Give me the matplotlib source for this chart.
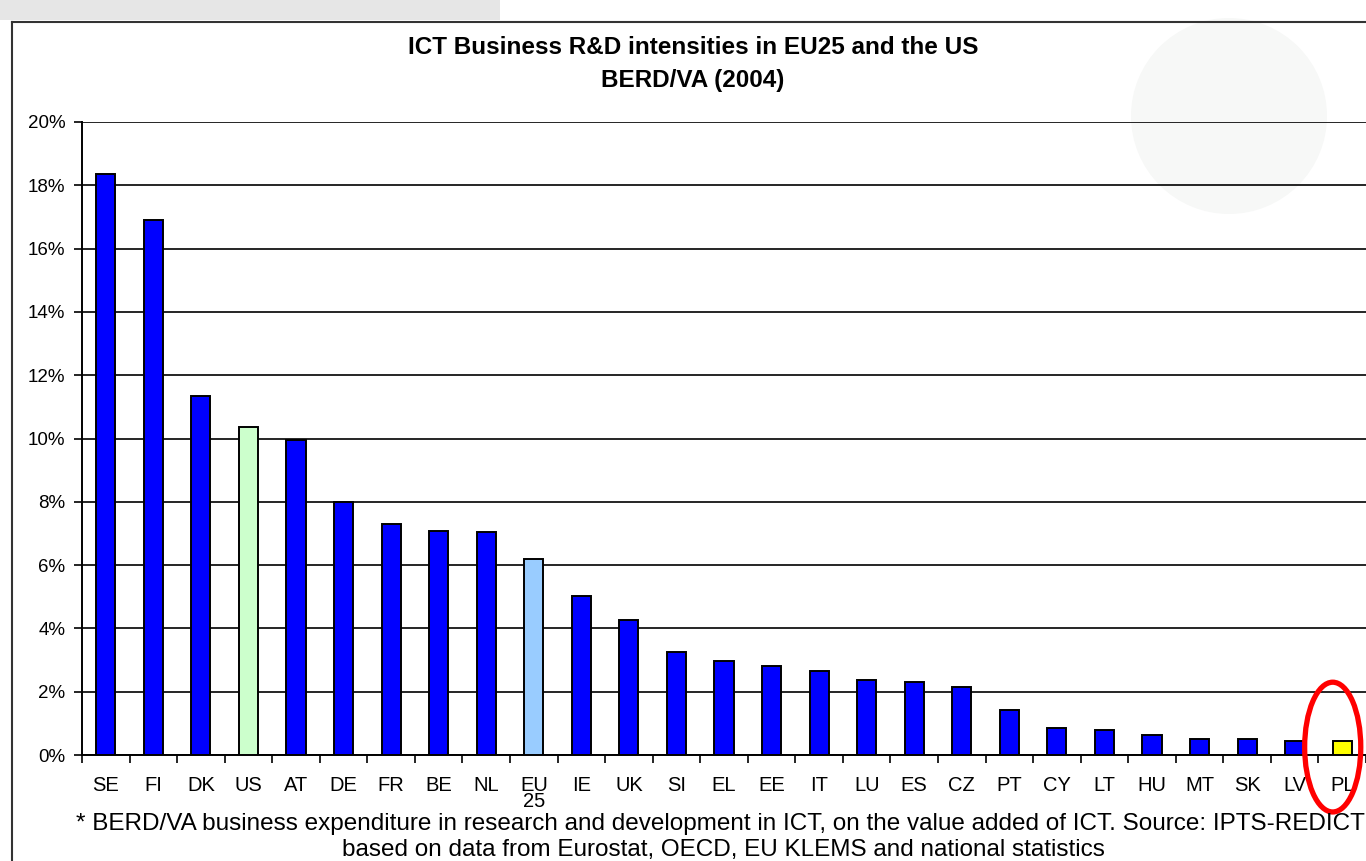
import matplotlib
matplotlib.use('Agg')
import matplotlib.pyplot as plt
from matplotlib.patches import Ellipse, Circle
from matplotlib.lines import Line2D
from matplotlib.transforms import IdentityTransform

# data (BERD/VA, %)
countries = ["SE", "FI", "DK", "US", "AT", "DE", "FR", "BE", "NL", "EU\n25", "IE", "UK", "SI",
             "EL", "EE", "IT", "LU", "ES", "CZ", "PT", "CY", "LT", "HU", "MT", "SK", "LV", "PL"]
values = [18.36, 16.9, 11.34, 10.36, 9.95, 7.99, 7.30, 7.08, 7.05, 6.19, 5.02, 4.27, 3.25,
          2.97, 2.81, 2.65, 2.37, 2.31, 2.15, 1.42, 0.85, 0.79, 0.63, 0.51, 0.51, 0.44, 0.44]
special_colors = {"US": "#CCFFCC", "EU\n25": "#99CCFF", "PL": "#FFFF00"}
yticks = [0, 2, 4, 6, 8, 10, 12, 14, 16, 18, 20]

plt.rcParams['font.family'] = ['Liberation Sans', 'DejaVu Sans']

fig = plt.figure(figsize=(13.66, 8.61), dpi=100)
W, H = 1366, 861

# faint watermark and frame of the slide (pixel coords, origin bottom-left)
fig.patches.append(Circle((1229, H - 116), 98, transform=IdentityTransform(),
                          facecolor="#F7F8F7", edgecolor="none", zorder=-2))
fig.patches.append(plt.Rectangle((0, 1 - 20 / H), 500 / W, 20 / H, transform=fig.transFigure,
                                 facecolor="#E6E6E6", edgecolor="none", zorder=-2))
fig.lines.append(Line2D([12 / W, 12 / W], [0, 1 - 22 / H], transform=fig.transFigure,
                        color="#333333", lw=1.5))
fig.lines.append(Line2D([12 / W, 1], [1 - 22 / H, 1 - 22 / H], transform=fig.transFigure,
                        color="#333333", lw=1.5))

ax = fig.add_axes([82 / W, 1 - 755 / H, (W - 82) / W, (755 - 122) / H])
ax.set_facecolor("none")

x = range(len(countries))
colors = [special_colors.get(c, "#0000FF") for c in countries]
ax.bar(x, values, width=0.4, color=colors, edgecolor="black", linewidth=1.4, zorder=3)

ax.set_xlim(-0.5, len(countries) - 0.5)
ax.set_ylim(0, 20)
ax.set_yticks(yticks)
ax.set_yticklabels([f"{v}%" for v in yticks], fontsize=13.5)
ax.yaxis.grid(True, color="black", linewidth=1.2, zorder=1)

ax.set_xticks(list(x))
ax.set_xticklabels(countries, fontsize=14.5, linespacing=0.8, va="top")
ax.set_xticks([i - 0.5 for i in range(len(countries) + 1)], minor=True)
ax.tick_params(axis="x", which="major", length=0, pad=15)
ax.tick_params(axis="x", which="minor", length=6, width=1.2, direction="out")
ax.tick_params(axis="y", length=6, width=1.2, direction="out", pad=6)

for s in ["top", "right"]:
    ax.spines[s].set_visible(False)
ax.spines["left"].set_linewidth(1.4)
ax.spines["bottom"].set_linewidth(1.4)

# red highlight around PL
ax.add_patch(Ellipse((25.8, 0.25), 1.18, 4.1, facecolor="none", edgecolor="red",
                     linewidth=3.8, clip_on=False, zorder=4))

fig.text(693 / W, 1 - 47 / H, "ICT Business R&D intensities in EU25 and the US",
         ha="center", va="center", fontsize=17.5, fontweight="bold")
fig.text(693 / W, 1 - 80 / H, "BERD/VA (2004)",
         ha="center", va="center", fontsize=17.5, fontweight="bold")

fig.text(76 / W, 1 - 824 / H,
         "* BERD/VA business expenditure in research and development in ICT, on the value added of ICT. Source: IPTS-REDICT",
         ha="left", va="center", fontsize=17.5)
fig.text(723 / W, 1 - 850 / H,
         "based on data from Eurostat, OECD, EU KLEMS and national statistics",
         ha="center", va="center", fontsize=17.5)

fig.savefig("out.png", dpi=100)
